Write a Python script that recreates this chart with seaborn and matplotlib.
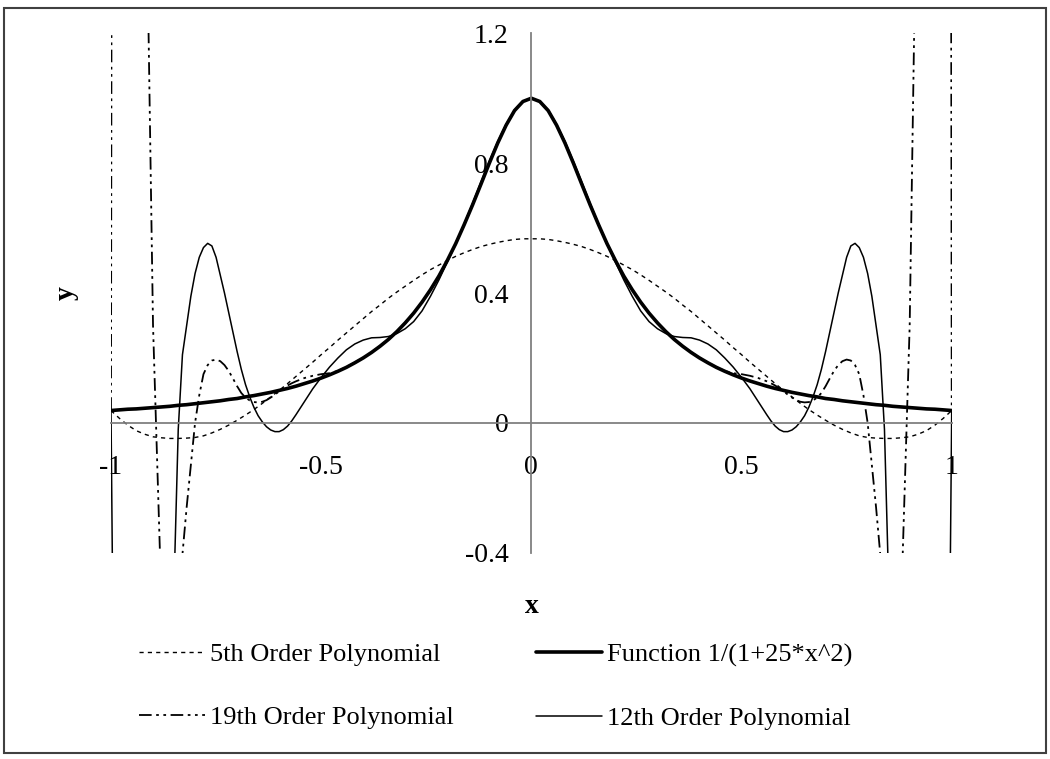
import numpy as np
import pandas as pd
import matplotlib
matplotlib.use("Agg")
import matplotlib.pyplot as plt
import seaborn as sns
from matplotlib.patches import Rectangle

# x sample points for the function and the 5th order curve (step 0.02)
x_vals = [
    -1.00, -0.98, -0.96, -0.94, -0.92, -0.90, -0.88, -0.86, -0.84, -0.82,
    -0.80, -0.78, -0.76, -0.74, -0.72, -0.70, -0.68, -0.66, -0.64, -0.62,
    -0.60, -0.58, -0.56, -0.54, -0.52, -0.50, -0.48, -0.46, -0.44, -0.42,
    -0.40, -0.38, -0.36, -0.34, -0.32, -0.30, -0.28, -0.26, -0.24, -0.22,
    -0.20, -0.18, -0.16, -0.14, -0.12, -0.10, -0.08, -0.06, -0.04, -0.02,
    0.00,
    0.02, 0.04, 0.06, 0.08, 0.10, 0.12, 0.14, 0.16, 0.18, 0.20,
    0.22, 0.24, 0.26, 0.28, 0.30, 0.32, 0.34, 0.36, 0.38, 0.40,
    0.42, 0.44, 0.46, 0.48, 0.50, 0.52, 0.54, 0.56, 0.58, 0.60,
    0.62, 0.64, 0.66, 0.68, 0.70, 0.72, 0.74, 0.76, 0.78, 0.80,
    0.82, 0.84, 0.86, 0.88, 0.90, 0.92, 0.94, 0.96, 0.98, 1.00,
]

func_y = [
    0.038, 0.040, 0.042, 0.043, 0.045, 0.047, 0.049, 0.051, 0.054, 0.056,
    0.059, 0.062, 0.065, 0.068, 0.072, 0.075, 0.080, 0.084, 0.089, 0.094,
    0.100, 0.106, 0.113, 0.121, 0.129, 0.138, 0.148, 0.159, 0.171, 0.185,
    0.200, 0.217, 0.236, 0.257, 0.281, 0.308, 0.338, 0.372, 0.410, 0.452,
    0.500, 0.552, 0.610, 0.671, 0.735, 0.800, 0.862, 0.917, 0.962, 0.990,
    1.000,
    0.990, 0.962, 0.917, 0.862, 0.800, 0.735, 0.671, 0.610, 0.552, 0.500,
    0.452, 0.410, 0.372, 0.338, 0.308, 0.281, 0.257, 0.236, 0.217, 0.200,
    0.185, 0.171, 0.159, 0.148, 0.138, 0.129, 0.121, 0.113, 0.106, 0.100,
    0.094, 0.089, 0.084, 0.080, 0.075, 0.072, 0.068, 0.065, 0.062, 0.059,
    0.056, 0.054, 0.051, 0.049, 0.047, 0.045, 0.043, 0.042, 0.040, 0.038,
]

poly5_y = [
    0.038, 0.014, -0.007, -0.024, -0.035, -0.043, -0.046, -0.048, -0.048, -0.047,
    -0.045, -0.040, -0.031, -0.020, -0.007, 0.008, 0.024, 0.041, 0.060, 0.080,
    0.100, 0.121, 0.143, 0.165, 0.187, 0.210, 0.232, 0.255, 0.277, 0.299,
    0.321, 0.343, 0.363, 0.384, 0.403, 0.421, 0.439, 0.456, 0.472, 0.486,
    0.500, 0.513, 0.524, 0.534, 0.543, 0.550, 0.556, 0.561, 0.565, 0.567,
    0.567,
    0.567, 0.565, 0.561, 0.556, 0.550, 0.543, 0.534, 0.524, 0.513, 0.500,
    0.486, 0.472, 0.456, 0.439, 0.421, 0.403, 0.384, 0.363, 0.343, 0.321,
    0.299, 0.277, 0.255, 0.232, 0.210, 0.187, 0.165, 0.143, 0.121, 0.100,
    0.080, 0.060, 0.041, 0.024, 0.008, -0.007, -0.020, -0.031, -0.040, -0.045,
    -0.047, -0.048, -0.048, -0.046, -0.043, -0.035, -0.024, -0.007, 0.014, 0.038,
]

# 12th order curve, read finer where it swings
x12 = [
    -1.00, -0.98, -0.96, -0.94, -0.92, -0.90, -0.88, -0.86,
    -0.85, -0.84, -0.83, -0.82, -0.81, -0.80, -0.79, -0.78, -0.77, -0.76,
    -0.75, -0.74, -0.73, -0.72, -0.71, -0.70, -0.69, -0.68, -0.67, -0.66,
    -0.65, -0.64, -0.63, -0.62, -0.61, -0.60, -0.59, -0.58, -0.57, -0.56,
    -0.54, -0.52, -0.50, -0.48, -0.46, -0.44, -0.42, -0.40, -0.38, -0.36,
    -0.34, -0.32, -0.30, -0.28, -0.26, -0.24, -0.22, -0.20, -0.18, -0.16,
    -0.14, -0.12, -0.10, -0.08, -0.06, -0.04, -0.02,
    0.00,
    0.02, 0.04, 0.06, 0.08, 0.10, 0.12, 0.14, 0.16, 0.18, 0.20,
    0.22, 0.24, 0.26, 0.28, 0.30, 0.32, 0.34, 0.36, 0.38, 0.40,
    0.42, 0.44, 0.46, 0.48, 0.50, 0.52, 0.54,
    0.56, 0.57, 0.58, 0.59, 0.60, 0.61, 0.62, 0.63, 0.64, 0.65,
    0.66, 0.67, 0.68, 0.69, 0.70, 0.71, 0.72, 0.73, 0.74, 0.75,
    0.76, 0.77, 0.78, 0.79, 0.80, 0.81, 0.82, 0.83, 0.84, 0.85,
    0.86, 0.88, 0.90, 0.92, 0.94, 0.96, 0.98, 1.00,
]
poly12_y = [
    0.040, -2.8, -3.6, -3.7, -3.2, -2.5, -1.9, -1.2,
    -0.50, -0.02, 0.21, 0.30, 0.39, 0.46, 0.51, 0.54, 0.553, 0.545,
    0.51, 0.455, 0.40, 0.34, 0.28, 0.22, 0.165, 0.118, 0.080, 0.048,
    0.022, 0.003, -0.012, -0.022, -0.027, -0.027, -0.021, -0.010, 0.006, 0.025,
    0.065, 0.105, 0.140, 0.172, 0.200, 0.225, 0.243, 0.255, 0.262, 0.263,
    0.266, 0.275, 0.290, 0.312, 0.345, 0.390, 0.440, 0.495, 0.550, 0.612,
    0.676, 0.742, 0.806, 0.867, 0.920, 0.964, 0.991,
    1.000,
    0.991, 0.964, 0.920, 0.867, 0.806, 0.742, 0.676, 0.612, 0.550, 0.495,
    0.440, 0.390, 0.345, 0.312, 0.290, 0.275, 0.266, 0.263, 0.262, 0.255,
    0.243, 0.225, 0.200, 0.172, 0.140, 0.105, 0.065,
    0.025, 0.006, -0.010, -0.021, -0.027, -0.027, -0.022, -0.012, 0.003, 0.022,
    0.048, 0.080, 0.118, 0.165, 0.22, 0.28, 0.34, 0.40, 0.455, 0.51,
    0.545, 0.553, 0.54, 0.51, 0.46, 0.39, 0.30, 0.21, -0.02, -0.50,
    -1.2, -1.9, -2.5, -3.2, -3.7, -3.6, -2.8, 0.040,
]

# 19th order curve, finer over the side bumps
x19 = [
    -1.00, -0.98, -0.96, -0.94, -0.92, -0.90, -0.88, -0.86, -0.84, -0.82,
    -0.80, -0.79, -0.78, -0.77, -0.76, -0.75, -0.74, -0.73, -0.72, -0.71,
    -0.70, -0.69, -0.68, -0.67, -0.66, -0.65, -0.64, -0.63, -0.62, -0.61,
    -0.60, -0.59, -0.58, -0.57, -0.56,
    -0.54, -0.52, -0.50, -0.48, -0.46, -0.44, -0.42, -0.40, -0.38, -0.36,
    -0.34, -0.32, -0.30, -0.28, -0.26, -0.24, -0.22, -0.20, -0.18, -0.16,
    -0.14, -0.12, -0.10, -0.08, -0.06, -0.04, -0.02,
    0.00,
    0.02, 0.04, 0.06, 0.08, 0.10, 0.12, 0.14, 0.16, 0.18, 0.20,
    0.22, 0.24, 0.26, 0.28, 0.30, 0.32, 0.34, 0.36, 0.38, 0.40,
    0.42, 0.44, 0.46, 0.48, 0.50, 0.52, 0.54,
    0.56, 0.57, 0.58, 0.59, 0.60, 0.61, 0.62, 0.63, 0.64, 0.65,
    0.66, 0.67, 0.68, 0.69, 0.70, 0.71, 0.72, 0.73, 0.74, 0.75,
    0.76, 0.77, 0.78, 0.79, 0.80,
    0.82, 0.84, 0.86, 0.88, 0.90, 0.92, 0.94, 0.96, 0.98, 1.00,
]
poly19_y = [
    0.040, 20.0, 30.0, 20.0, 2.0, 0.30, -0.55, -1.2, -0.55, -0.26,
    0.00, 0.085, 0.15, 0.178, 0.192, 0.195, 0.19, 0.178, 0.16, 0.137,
    0.113, 0.092, 0.078, 0.069, 0.064, 0.063, 0.065, 0.070, 0.078, 0.087,
    0.097, 0.106, 0.115, 0.122, 0.128,
    0.138, 0.145, 0.150, 0.153, 0.160, 0.172, 0.186, 0.201, 0.218, 0.237,
    0.258, 0.282, 0.309, 0.339, 0.373, 0.411, 0.453, 0.501, 0.553, 0.611,
    0.672, 0.736, 0.801, 0.863, 0.918, 0.963, 0.990,
    1.000,
    0.990, 0.963, 0.918, 0.863, 0.801, 0.736, 0.672, 0.611, 0.553, 0.501,
    0.453, 0.411, 0.373, 0.339, 0.309, 0.282, 0.258, 0.237, 0.218, 0.201,
    0.186, 0.172, 0.160, 0.153, 0.150, 0.145, 0.138,
    0.128, 0.122, 0.115, 0.106, 0.097, 0.087, 0.078, 0.070, 0.065, 0.063,
    0.064, 0.069, 0.078, 0.092, 0.113, 0.137, 0.16, 0.178, 0.19, 0.195,
    0.192, 0.178, 0.15, 0.085, 0.00,
    -0.26, -0.55, -1.2, -0.55, 0.30, 2.0, 20.0, 30.0, 20.0, 0.040,
]

x_ticks = [-1, -0.5, 0, 0.5, 1]
x_ticklabels = ["-1", "-0.5", "0", "0.5", "1"]
y_ticks = [-0.4, 0, 0.4, 0.8, 1.2]
y_ticklabels = ["-0.4", "0", "0.4", "0.8", "1.2"]

df = pd.DataFrame({"x": x_vals, "func": func_y, "p5": poly5_y})
df12 = pd.DataFrame({"x": x12, "y": poly12_y})
df19 = pd.DataFrame({"x": x19, "y": poly19_y})

sns.set_style("white")
plt.rcParams["font.family"] = ["Liberation Serif", "DejaVu Serif"]
plt.rcParams["text.color"] = "black"
plt.rcParams["axes.labelcolor"] = "black"

fig = plt.figure(figsize=(10.5, 7.59), dpi=100)
ax = fig.add_axes([0.1057, 0.2718, 0.8007, 0.6843])

sns.lineplot(data=df, x="x", y="p5", ax=ax, color="black", lw=1.0,
             linestyle=(0, (3, 3)), sort=False, label="5th Order Polynomial")
sns.lineplot(data=df19, x="x", y="y", ax=ax, color="black", lw=1.3,
             linestyle=(0, (7, 2.5, 1.5, 2.5, 1.5, 2.5)), sort=False,
             label="19th Order Polynomial")
sns.lineplot(data=df, x="x", y="func", ax=ax, color="black", lw=2.6,
             sort=False, label="Function 1/(1+25*x^2)")
sns.lineplot(data=df12, x="x", y="y", ax=ax, color="black", lw=1.1,
             sort=False, label="12th Order Polynomial")

ax.set_xlim(-1, 1)
ax.set_ylim(-0.4, 1.2)

# axes cross at the origin, like the excel chart
for side in ["top", "right"]:
    ax.spines[side].set_visible(False)
for side in ["left", "bottom"]:
    ax.spines[side].set_position(("data", 0))
    ax.spines[side].set_color("#808080")
    ax.spines[side].set_linewidth(1.3)

ax.set_xticks(x_ticks)
ax.set_xticklabels(x_ticklabels)
ax.set_yticks(y_ticks)
ax.set_yticklabels(y_ticklabels)
ax.tick_params(axis="both", direction="out", length=6.5, width=1.2,
               color="#808080", labelsize=20, labelcolor="black")
ax.tick_params(axis="x", pad=17)
ax.tick_params(axis="y", pad=10)

ax.set_xlabel("x", fontsize=20, fontweight="bold", color="black")
ax.set_ylabel("y", fontsize=20, fontweight="bold", color="black")
ax.xaxis.set_label_coords(0.5, -0.08)
ax.yaxis.set_label_coords(-0.038, 0.5)

handles, labels = ax.get_legend_handles_labels()
if ax.get_legend() is not None:
    ax.get_legend().remove()
leg = fig.legend(handles, labels, ncol=2, loc="upper left",
                 bbox_to_anchor=(0.1325, 0.153), frameon=False, fontsize=19,
                 handlelength=2.5, handletextpad=0.2, columnspacing=3.1,
                 labelspacing=1.5, borderpad=0, borderaxespad=0)
for t in leg.get_texts():
    t.set_color("black")

fig.patches.append(Rectangle((0.0038, 0.0079), 0.9924, 0.9816,
                             transform=fig.transFigure, fill=False,
                             edgecolor="#404040", linewidth=1.5))

fig.savefig("out.png", dpi=100)
